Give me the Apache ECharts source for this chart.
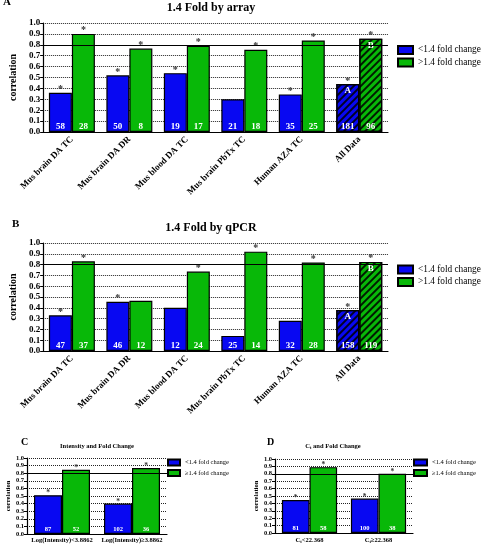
<!DOCTYPE html>
<html>
<head>
<meta charset="utf-8">
<script src="https://cdn.jsdelivr.net/npm/echarts@6/dist/echarts.min.js"></script>
<style>
  html, body { margin: 0; padding: 0; background: #fff; }
  #main { width: 484px; height: 544px; }
</style>
</head>
<body>
<div id="main"></div>
<script>
/* categories */
const studyCats = ['Mus brain DA TC', 'Mus brain DA DR', 'Mus blood DA TC', 'Mus brain PbTx TC', 'Human AZA TC', 'All Data'];
const intensityCats = ['Log(Intensity)<3.8862', 'Log(Intensity)≥3.8862'];
const ctCats = ['Ct<22.368', 'Ct≥22.368'];

/* A - 1.4 fold by array */
const arrayLow = [0.36, 0.52, 0.54, 0.30, 0.345, 0.44];
const arrayHigh = [0.90, 0.765, 0.79, 0.755, 0.84, 0.855];
const arrayLowN = [58, 50, 19, 21, 35, 181];
const arrayHighN = [28, 8, 17, 18, 25, 96];
const arrayLowStar = [1, 1, 1, 0, 1, 1];
const arrayHighStar = [1, 1, 1, 1, 1, 1];

/* B - 1.4 fold by qPCR */
const qpcrLow = [0.33, 0.455, 0.40, 0.14, 0.28, 0.38];
const qpcrHigh = [0.83, 0.465, 0.735, 0.92, 0.82, 0.825];
const qpcrLowN = [47, 46, 12, 25, 32, 158];
const qpcrHighN = [37, 12, 24, 14, 28, 119];
const qpcrLowStar = [1, 1, 0, 0, 0, 1];
const qpcrHighStar = [1, 0, 1, 1, 1, 1];

/* all data bars: hatched + letter */
const studyHatch = [0, 0, 0, 0, 0, 1];
const studyLetterLow = ['', '', '', '', '', 'A'];
const studyLetterHigh = ['', '', '', '', '', 'B'];

/* C - intensity and fold change */
const intensityLow = [0.51, 0.40];
const intensityHigh = [0.845, 0.868];
const intensityLowN = [87, 102];
const intensityHighN = [52, 36];

/* D - Ct and fold change */
const ctLow = [0.445, 0.465];
const ctHigh = [0.89, 0.80];
const ctLowN = [81, 100];
const ctHighN = [58, 38];

const twoStars = [1, 1];
const twoBlank = ['', ''];
const twoPlain = [0, 0];

const FONT = '"Liberation Serif", "DejaVu Serif", serif';
const BLUE = '#0808f2';
const GREEN = '#08b808';

const hatchDecal = {
  symbol: 'rect', symbolSize: 1,
  dashArrayX: [1, 0], dashArrayY: [1.3, 3],
  rotation: -Math.PI / 4, color: 'rgba(0,0,0,0.85)'
};

const panels = [
  { grid: { left: 33, top: 23, width: 355, height: 109 }, cats: studyCats,
    low: arrayLow, high: arrayHigh, lowN: arrayLowN, highN: arrayHighN,
    lowStar: arrayLowStar, highStar: arrayHighStar,
    letterLow: studyLetterLow, letterHigh: studyLetterHigh, hatch: studyHatch,
    fs: 9, rotate: 45, nameGap: 22, nameFs: 10,
    legend: { left: 397, top: 45, w: 15, h: 8, fs: 9.3, gap: 2.5 },
    lowName: '<1.4 fold change', highName: '>1.4 fold change' },
  { grid: { left: 33, top: 243, width: 355, height: 108 }, cats: studyCats,
    low: qpcrLow, high: qpcrHigh, lowN: qpcrLowN, highN: qpcrHighN,
    lowStar: qpcrLowStar, highStar: qpcrHighStar,
    letterLow: studyLetterLow, letterHigh: studyLetterHigh, hatch: studyHatch,
    fs: 9, rotate: 45, nameGap: 22, nameFs: 10,
    legend: { left: 397, top: 264.5, w: 15, h: 8, fs: 9.3, gap: 2.5 },
    lowName: '<1.4 fold change', highName: '>1.4 fold change' },
  { grid: { left: 27, top: 458, width: 140, height: 76 }, cats: intensityCats,
    low: intensityLow, high: intensityHigh, lowN: intensityLowN, highN: intensityHighN,
    lowStar: twoStars, highStar: twoStars,
    letterLow: twoBlank, letterHigh: twoBlank, hatch: twoPlain,
    fs: 6.5, rotate: 0, nameGap: 15, nameFs: 6.5,
    legend: { left: 167, top: 458.5, w: 12, h: 6, fs: 6.5, gap: 2.5 },
    lowName: '<1.4 fold change', highName: '≥1.4 fold change' },
  { grid: { left: 275, top: 459, width: 138, height: 77 }, cats: ctCats,
    low: ctLow, high: ctHigh, lowN: ctLowN, highN: ctHighN,
    lowStar: twoStars, highStar: twoStars,
    letterLow: twoBlank, letterHigh: twoBlank, hatch: twoPlain,
    fs: 6.5, rotate: 0, nameGap: 15, nameFs: 6.5,
    legend: { left: 413, top: 458.5, w: 13, h: 6, fs: 6.5, gap: 2.5 },
    lowName: '<1.4 fold change', highName: '≥1.4 fold change' }
];

const grid = [], xAxis = [], yAxis = [], series = [], legend = [];

/* D's category labels need a subscript t */
function ctLabel(v) {
  return v.indexOf('Ct') === 0 ? '{n|C}{s|t}{n|' + v.slice(2) + '}' : v;
}

panels.forEach((p, k) => {
  grid.push(p.grid);
  const ax = 3 * k;
  for (let j = 0; j < 3; j++) {
    xAxis.push({
      type: 'category', gridIndex: k, data: p.cats, show: j === 0,
      axisLine: { lineStyle: { color: '#000', width: 1.2 } },
      axisTick: { alignWithLabel: true, length: 3, lineStyle: { color: '#000' } },
      axisLabel: {
        interval: 0, rotate: p.rotate, margin: p.rotate ? 6 : 3,
        color: '#000', fontFamily: FONT, fontWeight: 'bold', fontSize: p.fs,
        formatter: ctLabel,
        rich: {
          n: { fontFamily: FONT, fontWeight: 'bold', fontSize: p.fs, color: '#000' },
          s: { fontFamily: FONT, fontWeight: 'bold', fontSize: p.fs - 2, color: '#000', padding: [3, 0, 0, 0] }
        }
      }
    });
  }
  yAxis.push({
    type: 'value', gridIndex: k, min: 0, max: 1, interval: 0.1,
    name: 'correlation', nameLocation: 'middle', nameGap: p.nameGap,
    nameTextStyle: { fontFamily: FONT, fontWeight: 'bold', fontSize: p.nameFs, color: '#000' },
    axisLine: { show: true, lineStyle: { color: '#000', width: 1.2 } },
    axisTick: { show: true, length: 3, lineStyle: { color: '#000' } },
    axisLabel: { margin: 3, color: '#000', fontFamily: FONT, fontWeight: 'bold', fontSize: p.fs,
      formatter: v => v.toFixed(1) },
    splitLine: { lineStyle: { type: 'dotted', color: '#222', width: 1 } }
  });

  const bars = [
    { name: p.lowName, vals: p.low, n: p.lowN, star: p.lowStar, letter: p.letterLow, color: BLUE },
    { name: p.highName, vals: p.high, n: p.highN, star: p.highStar, letter: p.letterHigh, color: GREEN }
  ];
  /* main bars with counts */
  bars.forEach((b, bi) => {
    series.push({
      type: 'bar', name: b.name, xAxisIndex: ax, yAxisIndex: k,
      barGap: 0, barCategoryGap: '20%',
      itemStyle: { color: b.color, borderColor: '#000', borderWidth: 1.2 },
      data: b.vals.map((v, i) => p.hatch[i] ? { value: v, itemStyle: { decal: hatchDecal } } : v),
      label: { show: true, position: 'insideBottom', distance: 1, color: '#fff',
        fontFamily: FONT, fontWeight: 'bold', fontSize: p.fs,
        formatter: q => b.n[q.dataIndex] },
      markLine: bi === 0 ? { silent: true, symbol: 'none', label: { show: false },
        lineStyle: { color: '#000', type: 'solid', width: 1.2 }, data: [{ yAxis: 0.8 }] } : undefined,
      silent: true
    });
  });
  /* overlays: stars above, letters inside top */
  bars.forEach(b => {
    series.push({
      type: 'bar', name: 'star', xAxisIndex: ax + 1, yAxisIndex: k,
      barGap: 0, barCategoryGap: '20%', silent: true,
      itemStyle: { color: 'rgba(0,0,0,0)', borderWidth: 0 },
      data: b.vals,
      label: { show: true, position: 'top', distance: -2, color: '#333',
        fontFamily: FONT, fontWeight: 'bold', fontSize: p.fs + 1,
        formatter: q => b.star[q.dataIndex] ? '*' : '' }
    });
  });
  bars.forEach(b => {
    series.push({
      type: 'bar', name: 'letter', xAxisIndex: ax + 2, yAxisIndex: k,
      barGap: 0, barCategoryGap: '20%', silent: true,
      itemStyle: { color: 'rgba(0,0,0,0)', borderWidth: 0 },
      data: b.vals,
      label: { show: true, position: 'insideTop', distance: 2, color: '#fff',
        fontFamily: FONT, fontWeight: 'bold', fontSize: p.fs,
        formatter: q => b.letter[q.dataIndex] }
    });
  });

  legend.push({
    left: p.legend.left, top: p.legend.top, orient: 'vertical', padding: 0,
    icon: 'rect', itemWidth: p.legend.w, itemHeight: p.legend.h, itemGap: p.legend.gap,
    selectedMode: false, data: [p.lowName, p.highName],
    textStyle: { fontFamily: FONT, fontSize: p.legend.fs, color: '#000' }
  });
});

/* panel letters and titles */
function txt(x, y, text, size, align) {
  return { type: 'text', x: x, y: y, silent: true,
    style: { text: text, font: 'bold ' + size + 'px ' + FONT, fill: '#000',
      align: align || 'left', verticalAlign: 'middle' } };
}
const graphic = [
  txt(3, 2, 'A', 11),
  txt(211, 8, '1.4 Fold by array', 12, 'center'),
  txt(12, 224, 'B', 11),
  txt(211, 228, '1.4 Fold by qPCR', 12, 'center'),
  txt(21, 442, 'C', 10),
  txt(97, 446, 'Intensity and Fold Change', 6.5, 'center'),
  txt(267, 442, 'D', 10),
  { type: 'text', x: 333, y: 446, silent: true,
    style: { text: '{n|C}{s|t}{n| and Fold Change}', align: 'center', verticalAlign: 'middle',
      rich: {
        n: { font: 'bold 6.5px ' + FONT, fill: '#000' },
        s: { font: 'bold 4.5px ' + FONT, fill: '#000', padding: [3, 0, 0, 0] }
      } } }
];

const chart = echarts.init(document.getElementById('main'));
chart.setOption({
  animation: false,
  grid: grid,
  xAxis: xAxis,
  yAxis: yAxis,
  legend: legend,
  series: series,
  graphic: graphic
});
</script>
</body>
</html>
